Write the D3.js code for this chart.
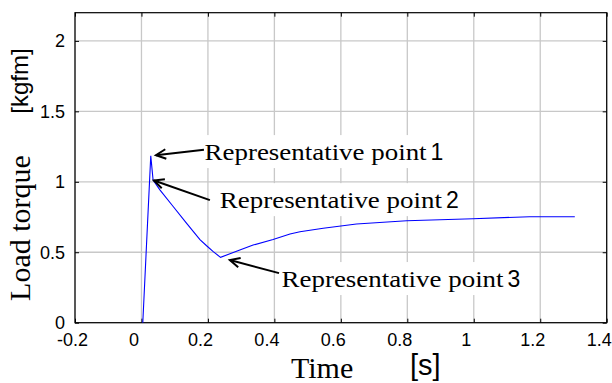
<!DOCTYPE html>
<html>
<head>
<meta charset="utf-8">
<script src="https://cdn.jsdelivr.net/npm/d3@7"></script>
<style>
  body { margin: 0; background: #fff; }
  svg { display: block; }
  .tick-label { font-family: 'Liberation Sans', Arial, sans-serif; font-size: 18px; fill: #000; }
  .serif { font-family: 'Liberation Serif', 'Times New Roman', serif; fill: #000; }
  .sans { font-family: 'Liberation Sans', Arial, sans-serif; fill: #000; }
</style>
</head>
<body>
<script>
/* global d3 */

// load torque curve
const timeVals = [0.004, 0.028, 0.035, 0.056, 0.096, 0.136, 0.176, 0.196, 0.216, 0.238, 0.296,
  0.336, 0.396, 0.447, 0.477, 0.547, 0.647, 0.798, 0.998, 1.168, 1.304];
const torqueVals = [0, 1.184, 1.012, 0.941, 0.823, 0.705, 0.590, 0.546, 0.504, 0.464, 0.516,
  0.551, 0.591, 0.629, 0.645, 0.670, 0.700, 0.723, 0.738, 0.752, 0.752];

const xTicks = [-0.2, 0, 0.2, 0.4, 0.6, 0.8, 1, 1.2, 1.4];
const yTicks = [0, 0.5, 1, 1.5, 2];

// annotations: label text, number, arrow tip and tail, label anchor (data units)
const noteText = ['Representative point', 'Representative point', 'Representative point'];
const noteNum = ['1', '2', '3'];
const noteTip = [[0.0436, 1.189], [0.0376, 1.009], [0.266, 0.445]];
const noteTail = [[0.188, 1.228], [0.206, 0.870], [0.414, 0.352]];
const noteAt = [[0.19, 1.154], [0.236, 0.813], [0.4216, 0.253]];

const W = 612;
const H = 383;
const margin = {
  top: 12.7,
  right: 5.3,
  bottom: 60.3,
  left: 75,
};
const width = W - margin.left - margin.right;
const height = H - margin.top - margin.bottom;

const data = timeVals.map((t, i) => ({ t, v: torqueVals[i] }));

const xScale = d3.scaleLinear().domain([-0.2, 1.4]).range([0, width]);
const yScale = d3.scaleLinear().domain([0, 2.2]).range([height, 0]);

const svg = d3.select('body')
  .append('svg')
  .attr('width', W)
  .attr('height', H);

const g = svg.append('g')
  .attr('transform', `translate(${margin.left}, ${margin.top})`);

// grid
g.append('g')
  .selectAll('line')
  .data(xTicks)
  .join('line')
  .attr('x1', (d) => xScale(d))
  .attr('x2', (d) => xScale(d))
  .attr('y1', 0)
  .attr('y2', height)
  .attr('stroke', '#c8c8c8')
  .attr('stroke-width', 1.3);

g.append('g')
  .selectAll('line')
  .data(yTicks)
  .join('line')
  .attr('x1', 0)
  .attr('x2', width)
  .attr('y1', (d) => yScale(d))
  .attr('y2', (d) => yScale(d))
  .attr('stroke', '#c8c8c8')
  .attr('stroke-width', 1.3);

// axes with inward ticks (matlab style)
const fmt = (d) => `${d}`;
const bottom = g.append('g')
  .attr('transform', `translate(0, ${height})`)
  .call(d3.axisBottom(xScale).tickValues(xTicks).tickSizeInner(-4).tickSizeOuter(0).tickPadding(11).tickFormat(fmt));
const left = g.append('g')
  .call(d3.axisLeft(yScale).tickValues(yTicks).tickSizeInner(-4).tickSizeOuter(0).tickPadding(10).tickFormat(fmt));
g.append('g')
  .call(d3.axisTop(xScale).tickValues(xTicks).tickSizeInner(-4).tickSizeOuter(0).tickFormat(''));
g.append('g')
  .attr('transform', `translate(${width}, 0)`)
  .call(d3.axisRight(yScale).tickValues(yTicks).tickSizeInner(-4).tickSizeOuter(0).tickFormat(''));

[bottom, left].forEach((ax) => {
  ax.selectAll('text').attr('class', 'tick-label');
});
// x labels sit a little left of their ticks in the original
bottom.selectAll('text').attr('dx', (d) => (d < 0 ? -3 : -8));
g.selectAll('.domain').remove();
g.selectAll('.tick line').attr('stroke', '#000');

// frame
g.append('rect')
  .attr('width', width)
  .attr('height', height)
  .attr('fill', 'none')
  .attr('stroke', '#000')
  .attr('stroke-width', 1.2);

// curve
const line = d3.line()
  .x((d) => xScale(d.t))
  .y((d) => yScale(d.v));

g.append('path')
  .datum(data)
  .attr('d', line)
  .attr('fill', 'none')
  .attr('stroke', '#0000ff')
  .attr('stroke-width', 1.1);

// annotations
const notes = g.append('g');
noteText.forEach((txt, i) => {
  const x0 = xScale(noteAt[i][0]);
  const y0 = yScale(noteAt[i][1]);
  const box = notes.append('rect').attr('fill', '#fff');
  notes.append('text')
    .attr('class', 'serif')
    .attr('x', x0)
    .attr('y', y0)
    .attr('font-size', 24)
    .attr('textLength', 222)
    .attr('lengthAdjust', 'spacingAndGlyphs')
    .text(txt);
  const t2 = notes.append('text')
    .attr('class', 'sans')
    .attr('x', x0 + 226)
    .attr('y', y0)
    .attr('font-size', 23)
    .text(noteNum[i]);
  const b2 = t2.node().getBBox();
  box.attr('x', x0 - 3)
    .attr('y', y0 - 25)
    .attr('width', b2.x + b2.width - x0 + 6)
    .attr('height', 33);

  const tip = [xScale(noteTip[i][0]), yScale(noteTip[i][1])];
  const tail = [xScale(noteTail[i][0]), yScale(noteTail[i][1])];
  const ang = Math.atan2(tail[1] - tip[1], tail[0] - tip[0]);
  const hl = 11;
  const ha = 0.45;
  notes.append('line')
    .attr('x1', tail[0]).attr('y1', tail[1])
    .attr('x2', tip[0]).attr('y2', tip[1])
    .attr('stroke', '#000')
    .attr('stroke-width', 2);
  notes.append('path')
    .attr('d', `M${tip[0] + hl * Math.cos(ang - ha)},${tip[1] + hl * Math.sin(ang - ha)}`
      + `L${tip[0]},${tip[1]}`
      + `L${tip[0] + hl * Math.cos(ang + ha)},${tip[1] + hl * Math.sin(ang + ha)}`)
    .attr('fill', 'none')
    .attr('stroke', '#000')
    .attr('stroke-width', 2);
});

// axis titles
svg.append('text')
  .attr('class', 'serif')
  .attr('x', 291)
  .attr('y', 378)
  .attr('font-size', 30)
  .text('Time');

svg.append('text')
  .attr('class', 'sans')
  .attr('x', 410)
  .attr('y', 375)
  .attr('font-size', 29)
  .text('[s]');

svg.append('text')
  .attr('class', 'serif')
  .attr('transform', 'translate(30, 228) rotate(-90)')
  .attr('text-anchor', 'middle')
  .attr('font-size', 30)
  .text('Load torque');

svg.append('text')
  .attr('class', 'sans')
  .attr('transform', 'translate(28, 81) rotate(-90)')
  .attr('text-anchor', 'middle')
  .attr('font-size', 24)
  .text('[kgfm]');
</script>
</body>
</html>
